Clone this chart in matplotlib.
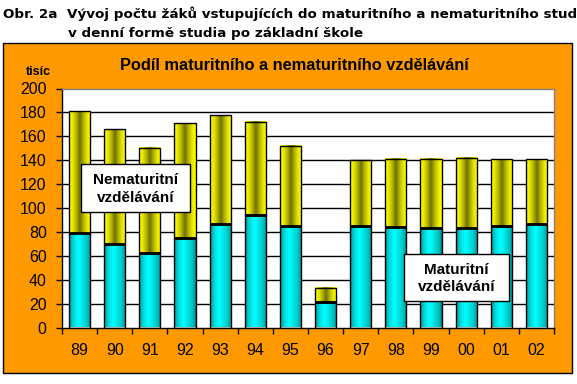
import numpy as np
import matplotlib
matplotlib.use("Agg")
from matplotlib import pyplot as plt
from matplotlib.patches import Rectangle

plt.rcParams['font.family'] = ['Liberation Sans', 'DejaVu Sans']

# data (tisíc žáků)
roky = ['89', '90', '91', '92', '93', '94', '95', '96', '97', '98', '99', '00', '01', '02']
maturitni = [79, 70, 62, 75, 87, 94, 85, 21, 85, 84, 83, 83, 85, 87]
nematuritni = [102, 96, 88, 96, 91, 78, 67, 12, 55, 57, 58, 59, 56, 54]

W, H = 577, 384


def px(x, y):
    return x / W, 1 - y / H


def gradient(edge, mid, center=0.45, power=1.0, n=96):
    # horizontal "cylinder" shading: edge colour at both sides, mid colour in the centre
    t = np.linspace(0, 1, n)
    w = np.where(t < center, t / center, (1 - t) / (1 - center)) ** power
    edge = np.array(edge) / 255.0
    mid = np.array(mid) / 255.0
    col = edge[None, :] + (mid - edge)[None, :] * w[:, None]
    return col[None, :, :]


cyan_img = gradient((0, 110, 110), (0, 255, 255), center=0.42, power=0.45)
yellow_img = gradient((255, 255, 0), (110, 110, 0), center=0.5, power=1.6)

fig = plt.figure(figsize=(W / 100, H / 100), dpi=100)
fig.patch.set_facecolor('white')

# orange frame
x0, y0 = px(3, 373)
fig.add_artist(Rectangle((x0, y0), 569 / W, 330 / H, transform=fig.transFigure,
                         facecolor='#FF9900', edgecolor='black', linewidth=1, zorder=0))

# headline
hfont = dict(family='DejaVu Sans', fontsize=9.7, fontweight='bold', va='baseline')
fig.text(*px(3, 18), 'Obr. 2a', **hfont)
fig.text(*px(67, 18), 'Vývoj počtu žáků vstupujících do maturitního a nematuritního studia', **hfont)
fig.text(*px(68, 37), 'v denní formě studia po základní škole', **hfont)

fig.text(*px(294, 65), 'Podíl maturitního a nematuritního vzdělávání',
         fontsize=11.8, fontweight='bold', ha='center', va='center')
fig.text(*px(38, 72), 'tisíc', fontsize=9, fontweight='bold', ha='center', va='center')

ax = fig.add_axes([62 / W, (H - 327.5) / H, 492 / W, 239 / H])
ax.set_facecolor('white')

x = np.arange(len(roky))
bw = 0.6

for i in x:
    m = maturitni[i]
    n = nematuritni[i]
    ax.imshow(cyan_img, extent=[i - bw / 2, i + bw / 2, 0, m], aspect='auto',
              interpolation='bilinear', zorder=3)
    ax.imshow(yellow_img, extent=[i - bw / 2, i + bw / 2, m, m + n], aspect='auto',
              interpolation='bilinear', zorder=3)

ax.bar(x, maturitni, bw, fill=False, edgecolor='black', linewidth=1, zorder=4)
ax.bar(x, nematuritni, bw, bottom=maturitni, fill=False, edgecolor='black',
       linewidth=1, zorder=4)
ax.hlines(maturitni, x - bw / 2, x + bw / 2, color='black', linewidth=2, zorder=5)

ax.set_xlim(-0.5, len(roky) - 0.5)
ax.set_ylim(0, 200)

for g in range(20, 200, 20):
    ax.axhline(g, color='black', linewidth=1, zorder=1)

ax.spines['top'].set_color('#808080')
ax.spines['right'].set_color('#808080')
ax.spines['left'].set_color('black')
ax.spines['bottom'].set_color('black')
for s in ax.spines.values():
    s.set_linewidth(1)
    s.set_zorder(6)

ax.set_yticks(range(0, 201, 20))
ax.tick_params(axis='y', direction='out', length=4, width=1, pad=7, labelsize=11.5)
ax.set_xticks(np.arange(-0.5, len(roky), 1))
ax.set_xticklabels([])
ax.tick_params(axis='x', which='major', direction='out', length=4, width=1)
ax.set_xticks(x, minor=True)
ax.set_xticklabels(roky, minor=True)
ax.tick_params(axis='x', which='minor', length=0, pad=11, labelsize=11.5)

# labels in boxes
for (bx0, by0, bx1, by1), txt in [((81, 164, 190, 212), 'Nematuritní\nvzdělávání'),
                                   ((404, 254, 509, 301), 'Maturitní\nvzdělávání')]:
    rx, ry = px(bx0, by1)
    fig.add_artist(Rectangle((rx, ry), (bx1 - bx0) / W, (by1 - by0) / H,
                             transform=fig.transFigure, facecolor='white',
                             edgecolor='black', linewidth=1, zorder=9))
    fig.text(*px((bx0 + bx1) / 2, (by0 + by1) / 2 + 1), txt, fontsize=11, fontweight='bold',
             ha='center', va='center', linespacing=1.3, zorder=10)

fig.savefig('out.png', dpi=100)
